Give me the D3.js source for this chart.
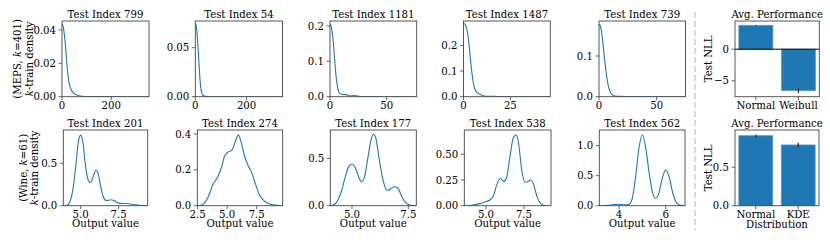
<!DOCTYPE html>
<html><head><meta charset="utf-8">
<script src="https://cdn.jsdelivr.net/npm/d3@7/dist/d3.min.js"></script>
<style>body{margin:0;background:#fff}svg{display:block}text{font-family:"DejaVu Serif",serif;fill:#000}</style>
</head><body><svg id="c" width="830" height="242"></svg>
<script>
// ---- Data ----
// Top row: MEPS, k=401
const meps799X = [0,4,8,12,16,20,25,30,38,48,60,80,110,150,250,353];
const meps799Y = [0.0434,0.0425,0.039,0.034,0.027,0.019,0.012,0.0075,0.004,0.002,0.001,0.0003,0.0001,0.00005,0,0];
const meps54X = [0,3,6,9,12,15,18,21,25,30,40,60,340];
const meps54Y = [0.0749,0.073,0.067,0.057,0.045,0.031,0.019,0.01,0.004,0.0015,0.0003,0,0];
const meps1181X = [0,1,2,3,4,5,6,7,8,10,12,14,16,18,21,24,28,35,50,76.5];
const meps1181Y = [0.205,0.2,0.18,0.15,0.11,0.07,0.04,0.022,0.012,0.007,0.006,0.006,0.004,0.002,0.003,0.002,0.0005,0.0002,0,0];
const meps1487X = [0,1,2,3,4,5,6,7,8,9,10,12,15,18,22,30,46.3];
const meps1487Y = [0.286,0.28,0.255,0.2,0.125,0.065,0.03,0.018,0.013,0.009,0.005,0.002,0.002,0.0008,0.0002,0,0];
const meps739X = [0,1,2,3,4,5,6,7,8,9,10,12,14,18,25,40,75];
const meps739Y = [0.178,0.175,0.163,0.142,0.115,0.088,0.064,0.044,0.028,0.017,0.01,0.004,0.0015,0.0008,0.0005,0.0001,0];
// Bottom row: Wine, k=61
const wine201X = [3.9,4.1,4.3,4.5,4.7,4.85,5.0,5.15,5.3,5.5,5.65,5.8,6.0,6.15,6.3,6.5,6.7,7.0,7.2,7.5,7.8,8.0,8.3,8.6,9.0,9.4];
const wine201Y = [0.0,0.005,0.05,0.2,0.5,0.75,0.83,0.75,0.5,0.3,0.27,0.33,0.42,0.38,0.24,0.1,0.06,0.07,0.06,0.03,0.025,0.025,0.02,0.01,0.003,0.0];
const wine274X = [2.6,3.0,3.4,3.8,4.2,4.5,4.8,5.1,5.4,5.7,5.95,6.2,6.5,6.8,7.1,7.4,7.7,8.0,8.5,9.0,9.6];
const wine274Y = [0.0,0.01,0.05,0.12,0.16,0.21,0.28,0.30,0.31,0.36,0.395,0.35,0.27,0.22,0.18,0.12,0.065,0.035,0.012,0.003,0.0];
const wine177X = [4.1,4.3,4.5,4.7,4.85,5.0,5.15,5.3,5.42,5.55,5.7,5.85,5.95,6.05,6.2,6.35,6.5,6.6,6.75,6.9,7.05,7.2,7.35,7.5,7.7,7.85];
const wine177Y = [0.0,0.03,0.13,0.3,0.41,0.44,0.4,0.3,0.255,0.3,0.5,0.7,0.755,0.72,0.5,0.3,0.18,0.16,0.185,0.2,0.18,0.1,0.04,0.012,0.001,0.0];
const wine538X = [3.75,4.2,4.6,5.0,5.3,5.5,5.7,5.95,6.15,6.35,6.55,6.8,7.0,7.15,7.35,7.55,7.7,7.95,8.15,8.35,8.55,8.8,9.0];
const wine538Y = [0.0,0.008,0.02,0.04,0.06,0.1,0.2,0.265,0.235,0.27,0.45,0.66,0.69,0.6,0.35,0.23,0.23,0.25,0.2,0.09,0.03,0.005,0.0];
const wine562X = [3.25,3.5,3.8,4.0,4.2,4.4,4.55,4.7,4.85,5.0,5.15,5.3,5.45,5.58,5.7,5.85,6.0,6.15,6.3,6.45,6.6,6.8];
const wine562Y = [0.0,0.006,0.018,0.023,0.016,0.02,0.1,0.45,0.95,1.18,0.95,0.52,0.2,0.12,0.2,0.45,0.595,0.48,0.22,0.06,0.01,0.0];
// Bar charts
const barCategoriesTop = ["Normal","Weibull"];
const barValuesTop = [3.79,-6.58];
const barErrTop = [0.06,0.35];
const barCategoriesBottom = ["Normal","KDE"];
const barValuesBottom = [0.909,0.789];
const barErrBottom = [0.017,0.026];
// Titles and tick labels
const titlesTop = ["Test Index 799","Test Index 54","Test Index 1181","Test Index 1487","Test Index 739"];
const titlesBottom = ["Test Index 201","Test Index 274","Test Index 177","Test Index 538","Test Index 562"];
const xTicksTop = [[0,200],[0,200],[0,50],[0,25],[0,50]];
const yTicksTop = [[0,0.02,0.04],[0,0.05],[0,0.1,0.2],[0,0.1,0.2],[0,0.1]];
const yTickLabelsTop = [["0.00","0.02","0.04"],["0.00","0.05"],["0.0","0.1","0.2"],["0.0","0.1","0.2"],["0.0","0.1"]];
const xTicksBottom = [[5,7.5],[2.5,5,7.5],[5,7.5],[5,7.5],[4,6]];
const xTickLabelsBottom = [["5.0","7.5"],["2.5","5.0","7.5"],["5.0","7.5"],["5.0","7.5"],["4","6"]];
const yTicksBottom = [[0,0.5],[0,0.2,0.4],[0,0.5],[0,0.25,0.5],[0,0.5,1.0]];
const yTickLabelsBottom = [["0.0","0.5"],["0.0","0.2","0.4"],["0.0","0.5"],["0.00","0.25","0.50"],["0.0","0.5","1.0"]];
const barYTicksTop = [0,-5], barYTickLabelsTop = ["0","\u22125"];
const barYTicksBottom = [0,0.5], barYTickLabelsBottom = ["0.0","0.5"];

// ---- Layout ----
const svg = d3.select("#c");
// calibrate font size so that a title has the reference's width (~76px)
const probe = svg.append("text").style("font-size","10px").text("Test Index 799");
const w10 = probe.node().getComputedTextLength();
probe.remove();
const FS = Math.max(9, Math.min(12.5, 10 * 76 / (w10 || 76)));
svg.style("font-size", FS + "px");
d3.selectAll("style").each(function(){ this.textContent += `text{font-size:${FS}px}`; });

const topBoxes = [[62,149],[195.3,282.5],[330,416.7],[463.5,550.3],[599,685.5]];
const botBoxes = [[63.3,147.7],[197.3,282.7],[330.3,416.3],[464.3,551],[599.3,685]];
const topY = [21,96.7], botY = [130,205.7];
const xDomTop = [[0,353],[0,340],[0,76.5],[0,46.3],[0,75]];
const yDomTop = [0.0453,0.0772,0.214,0.295,0.186];
const xDomBot = [[3.86,9.41],[2.47,9.7],[4.04,7.85],[3.57,9.28],[3.15,6.83]];
const yDomBot = [0.89,0.422,0.80,0.736,1.26];
const spine = "#444";
let clipId = 0;

function panel(xr, yr, xDom, yDom, xs, ys, xt, xtl, yt, ytl, title, xlabel) {
  const x = d3.scaleLinear().domain(xDom).range(xr);
  const y = d3.scaleLinear().domain(yDom).range([yr[1], yr[0]]);
  const g = svg.append("g");
  const id = "clip" + (clipId++);
  g.append("clipPath").attr("id", id).append("rect")
    .attr("x", xr[0]).attr("y", yr[0]).attr("width", xr[1]-xr[0]).attr("height", yr[1]-yr[0]);
  const pts = xs.map((v,i)=>[v, ys[i]]);
  g.append("path").attr("clip-path", `url(#${id})`)
    .attr("d", d3.line().x(d=>x(d[0])).y(d=>y(d[1])).curve(d3.curveMonotoneX)(pts))
    .attr("fill","none").attr("stroke","#1f77b4").attr("stroke-width",1.1);
  axes(g, x, y, xr, yr, xt, xtl, yt, ytl);
  g.append("text").attr("x", (xr[0]+xr[1])/2).attr("y", yr[0]-3).attr("text-anchor","middle").text(title);
  if (xlabel) g.append("text").attr("x", (xr[0]+xr[1])/2).attr("y", yr[1]+21.5).attr("text-anchor","middle").text(xlabel);
}

function axes(g, x, y, xr, yr, xt, xtl, yt, ytl) {
  g.append("rect").attr("x", xr[0]).attr("y", yr[0]).attr("width", xr[1]-xr[0]).attr("height", yr[1]-yr[0])
    .attr("fill","none").attr("stroke", spine).attr("stroke-width",0.9);
  if (xt) xt.forEach((t,i)=>{
    const px = x(t);
    g.append("line").attr("x1",px).attr("x2",px).attr("y1",yr[1]).attr("y2",yr[1]+3.5).attr("stroke",spine).attr("stroke-width",0.8);
    g.append("text").attr("x",px).attr("y",yr[1]+12.3).attr("text-anchor","middle").text(xtl[i]);
  });
  yt.forEach((t,i)=>{
    const py = y(t);
    g.append("line").attr("x1",xr[0]-3.5).attr("x2",xr[0]).attr("y1",py).attr("y2",py).attr("stroke",spine).attr("stroke-width",0.8);
    g.append("text").attr("x",xr[0]-6).attr("y",py).attr("dy","0.36em").attr("text-anchor","end").text(ytl[i]);
  });
}

for (let i=0;i<5;i++) {
  panel(topBoxes[i], topY, xDomTop[i], [0,yDomTop[i]],
    [meps799X,meps54X,meps1181X,meps1487X,meps739X][i],
    [meps799Y,meps54Y,meps1181Y,meps1487Y,meps739Y][i],
    xTicksTop[i], xTicksTop[i].map(String), yTicksTop[i], yTickLabelsTop[i], titlesTop[i], null);
  panel(botBoxes[i], botY, xDomBot[i], [0,yDomBot[i]],
    [wine201X,wine274X,wine177X,wine538X,wine562X][i],
    [wine201Y,wine274Y,wine177Y,wine538Y,wine562Y][i],
    xTicksBottom[i], xTickLabelsBottom[i], yTicksBottom[i], yTickLabelsBottom[i], titlesBottom[i], "Output value");
}

function barPanel(xr, yr, yDom, cats, vals, errs, yt, ytl, xlabel, zeroLine) {
  const g = svg.append("g");
  const x = d3.scaleLinear().domain([-0.49,1.49]).range(xr);
  const y = d3.scaleLinear().domain(yDom).range([yr[1], yr[0]]);
  const bw = 0.8;
  cats.forEach((c,i)=>{
    const v = vals[i];
    g.append("rect").attr("x", x(i-bw/2)).attr("width", x(i+bw/2)-x(i-bw/2))
      .attr("y", y(Math.max(0,v))).attr("height", Math.abs(y(v)-y(0)))
      .attr("fill","#1f77b4").attr("stroke","#5f9fd2").attr("stroke-width",0.8);
    g.append("line").attr("x1",x(i)).attr("x2",x(i)).attr("y1",y(v-errs[i])).attr("y2",y(v+errs[i]))
      .attr("stroke","#222").attr("stroke-width",1.2);
  });
  if (zeroLine) g.append("line").attr("x1",xr[0]).attr("x2",xr[1]).attr("y1",y(0)).attr("y2",y(0)).attr("stroke","#000").attr("stroke-width",1);
  axes(g, x, y, xr, yr, cats.map((c,i)=>i), cats, yt, ytl);
  g.append("text").attr("x",(xr[0]+xr[1])/2).attr("y",yr[0]-3).attr("text-anchor","middle").text("Avg. Performance");
  const cy = (yr[0]+yr[1])/2;
  g.append("text").attr("transform",`translate(${xr[0]-27},${cy}) rotate(-90)`).attr("text-anchor","middle").attr("dy","0.36em").text("Test NLL");
  if (xlabel) g.append("text").attr("x",(xr[0]+xr[1])/2).attr("y",yr[1]+22).attr("text-anchor","middle").text(xlabel);
}
barPanel([735,819.3], topY, [-7.53,4.47], barCategoriesTop, barValuesTop, barErrTop, barYTicksTop, barYTickLabelsTop, null, true);
barPanel([735,819], botY, [0,0.983], barCategoriesBottom, barValuesBottom, barErrBottom, barYTicksBottom, barYTickLabelsBottom, "Distribution", false);

// Row labels
function rowLabel(cx1, cx2, cy, name, k) {
  const t1 = svg.append("text").attr("transform",`translate(${cx1},${cy}) rotate(-90)`).attr("text-anchor","middle").attr("dy","0.36em");
  t1.append("tspan").text(`(${name}, `);
  t1.append("tspan").attr("font-style","italic").text("k");
  t1.append("tspan").text(`=${k})`);
  const t2 = svg.append("text").attr("transform",`translate(${cx2},${cy}) rotate(-90)`).attr("text-anchor","middle").attr("dy","0.36em");
  t2.append("tspan").attr("font-style","italic").text("k");
  t2.append("tspan").text("-train density");
}
rowLabel(17.5, 29.3, (topY[0]+topY[1])/2, "MEPS", 401);
rowLabel(23.5, 34.5, (botY[0]+botY[1])/2, "Wine", 61);

// Dashed separator
svg.append("line").attr("x1",695).attr("x2",695).attr("y1",12).attr("y2",230)
  .attr("stroke","#c8c8c8").attr("stroke-width",1.3).attr("stroke-dasharray","6,3");
</script></body></html>
